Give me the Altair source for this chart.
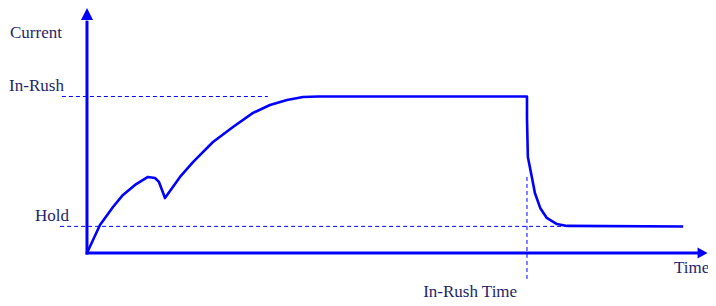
import altair as alt
import pandas as pd

# Current waveform (time in % of in-rush time, current in % of in-rush level)
time = [0, 2.95, 5.91, 8.18, 10.91, 13.86, 15.45, 16.36, 17.05, 17.73, 21.14, 24.09,
        28.64, 33.18, 37.73, 41.59, 45.45, 49.09, 52.5, 100, 100, 100.2, 101.1, 101.8,
        103.0, 104.5, 106.8, 109.1, 135.5]
current = [0, 17.9, 29.4, 37.1, 43.5, 48.6, 47.9, 45.4, 40.3, 35.1, 48.6, 58.1,
           70.9, 80.5, 89.5, 94.6, 97.8, 99.7, 100, 100, 86.3, 61.3, 48.6, 38.3,
           28.8, 22.4, 18.5, 17.3, 16.9]

inrush_level = 100
hold_level = 17
inrush_time = 100

# dashed guide segments
guide_x = [-5.7, -6.1, inrush_time]
guide_x2 = [41.1, 109.0, inrush_time]
guide_y = [inrush_level, hold_level, 48.6]
guide_y2 = [inrush_level, hold_level, -17.9]

# axis extents
axis_x = [0, -0.3]
axis_x2 = [0, 139.0]
axis_y = [-1, 0]
axis_y2 = [148.5, 0]

# labels
label_text = ["Current", "In-Rush", "Hold", "Time", "In-Rush Time"]
label_x = [-17.5, -17.7, -11.8, 133.4, 76.4]
label_y = [137.4, 103.5, 20.4, -12.8, -28.1]

curve = pd.DataFrame({"t": time, "c": current, "i": list(range(len(time)))})
guides = pd.DataFrame({"x": guide_x, "x2": guide_x2, "y": guide_y, "y2": guide_y2})
axes = pd.DataFrame({"x": axis_x, "x2": axis_x2, "y": axis_y, "y2": axis_y2})
labels = pd.DataFrame({"text": label_text, "x": label_x, "y": label_y})
arrow_up = pd.DataFrame({"x": [0], "y": [152.7]})
arrow_right = pd.DataFrame({"x": [139.9], "y": [0]})

xs = alt.Scale(domain=[-17.95, 141.14], nice=False, zero=False)
ys = alt.Scale(domain=[-33.87, 156.55], nice=False, zero=False)
BLUE = "#0000ff"

line = alt.Chart(curve).mark_line(color=BLUE, strokeWidth=2.6, strokeJoin="round").encode(
    x=alt.X("t:Q", scale=xs, axis=None),
    y=alt.Y("c:Q", scale=ys, axis=None),
    order="i:Q",
)

guide = alt.Chart(guides).mark_rule(color=BLUE, strokeWidth=1, strokeDash=[4, 3]).encode(
    x=alt.X("x:Q", scale=xs, axis=None), x2="x2:Q",
    y=alt.Y("y:Q", scale=ys, axis=None), y2="y2:Q",
)

axis_lines = alt.Chart(axes).mark_rule(color=BLUE, strokeWidth=3).encode(
    x=alt.X("x:Q", scale=xs, axis=None), x2="x2:Q",
    y=alt.Y("y:Q", scale=ys, axis=None), y2="y2:Q",
)

up = alt.Chart(arrow_up).mark_point(
    shape="M0,-1L-1,1L1,1Z", size=144, filled=True, color=BLUE, opacity=1
).encode(x=alt.X("x:Q", scale=xs, axis=None), y=alt.Y("y:Q", scale=ys, axis=None))

right = alt.Chart(arrow_right).mark_point(
    shape="M1,0L-1,-1.1L-1,1.1Z", size=100, filled=True, color=BLUE, opacity=1
).encode(x=alt.X("x:Q", scale=xs, axis=None), y=alt.Y("y:Q", scale=ys, axis=None))

text = alt.Chart(labels).mark_text(
    align="left", baseline="alphabetic", font="Liberation Serif", fontSize=17, color="#1f1f6b"
).encode(
    x=alt.X("x:Q", scale=xs, axis=None),
    y=alt.Y("y:Q", scale=ys, axis=None),
    text="text:N",
)

chart = alt.layer(guide, axis_lines, up, right, line, text).properties(
    width=700, height=298, padding=0, autosize=alt.AutoSizeParams(type="none")
).configure_view(stroke=None)

chart.save("out.html", embed_options={"renderer": "svg", "actions": False})
